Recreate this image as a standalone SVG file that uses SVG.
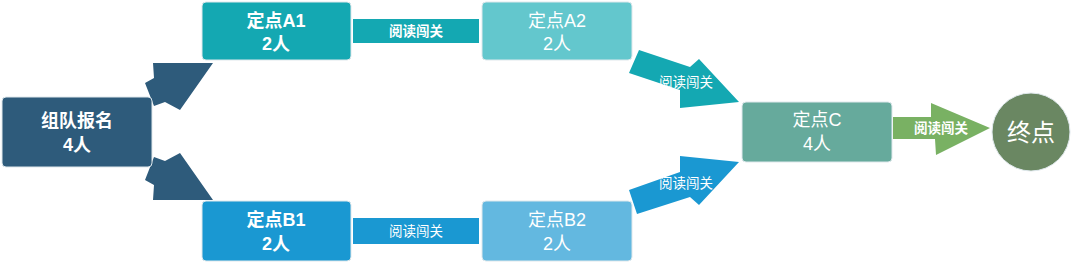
<svg xmlns="http://www.w3.org/2000/svg" width="1072" height="263" viewBox="0 0 1072 263">
<style>
.node{stroke:#dfe8ec;stroke-width:1}
.t{font-family:"Liberation Sans","Noto Sans CJK SC",sans-serif;fill:#fff;text-anchor:middle}
.b{font-weight:bold}
.big{font-size:18px}
.sm{font-size:13.5px}
</style>
<rect width="1072" height="263" fill="#fff"/>
<g id="connectors">
<polygon points="153,63 213,63 180,110 165,102 154,106 145,83 154,78" fill="#2e5b7b"/>
<polygon points="153,200 213,200 180,153 165,161 154,157 145,180 154,185" fill="#2e5b7b"/>
<rect x="353" y="19" width="126" height="24" fill="#14a8b2"/>
<text class="t b sm" x="416" y="36">阅读闯关</text>
<rect x="353" y="218" width="126" height="26" fill="#1a98d2"/>
<text class="t sm" x="416" y="236">阅读闯关</text>
<polygon points="639,50 690,67 699,59 739,102 680,108 680,90 629,73" fill="#14a8b2"/>
<text class="t sm" x="686" y="87">阅读闯关</text>
<polygon points="637,214 690,197 699,205 739,162 680,156 680,172 629,190" fill="#1a98d2"/>
<text class="t sm" x="686" y="188">阅读闯关</text>
<polygon points="893,117 931,117 931,103 990,128 936,155 935,139 893,139" fill="#79b163"/>
<text class="t b sm" x="941" y="133">阅读闯关</text>
</g>
<g id="n-team">
<rect class="node" x="2" y="97" width="150" height="70" rx="4" fill="#2e5b7b"/>
<text class="t b big" x="77" y="127">组队报名</text>
<text class="t b big" x="77" y="151">4人</text>
</g>
<g id="n-a1">
<rect class="node" x="202" y="2" width="149" height="58" rx="4" fill="#14a8b2"/>
<text class="t b big" x="276" y="27">定点A1</text>
<text class="t b big" x="276" y="50">2人</text>
</g>
<g id="n-a2">
<rect class="node" x="482" y="2" width="150" height="58" rx="4" fill="#63c7cd"/>
<text class="t big" x="557" y="27">定点A2</text>
<text class="t big" x="557" y="50">2人</text>
</g>
<g id="n-b1">
<rect class="node" x="202" y="201" width="149" height="60" rx="4" fill="#1a98d2"/>
<text class="t b big" x="276" y="226">定点B1</text>
<text class="t b big" x="276" y="250">2人</text>
</g>
<g id="n-b2">
<rect class="node" x="482" y="201" width="150" height="60" rx="4" fill="#63b8e0"/>
<text class="t big" x="557" y="226">定点B2</text>
<text class="t big" x="557" y="250">2人</text>
</g>
<g id="n-c">
<rect class="node" x="742" y="102" width="150" height="60" rx="4" fill="#66aa9c"/>
<text class="t big" x="817" y="126">定点C</text>
<text class="t big" x="817" y="150">4人</text>
</g>
<g id="n-end">
<circle cx="1031" cy="132" r="39" fill="#6a8762" stroke="#dfe8ec" stroke-width="1"/>
<text class="t" x="1031" y="141" style="font-size:24px">终点</text>
</g>
</svg>
